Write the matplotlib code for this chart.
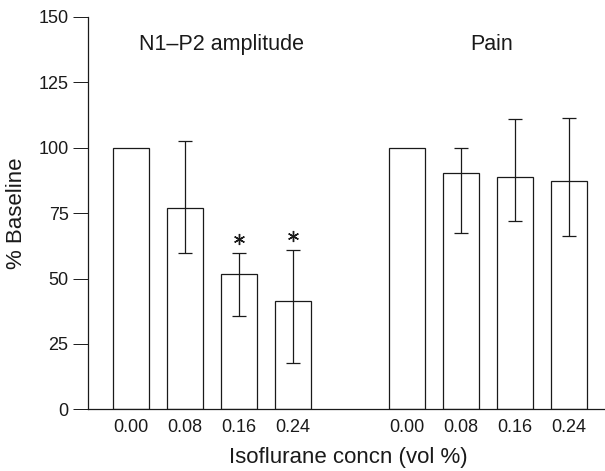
import matplotlib
matplotlib.use("Agg")
import matplotlib.pyplot as plt
import numpy as np

plt.rcParams['font.family'] = ['Liberation Sans', 'DejaVu Sans']

tick_labels = ["0.00", "0.08", "0.16", "0.24"]
n1p2_vals = [100, 76.8, 51.9, 41.3]
n1p2_err_hi = [np.nan, 102.6, 59.8, 60.8]
n1p2_err_lo = [np.nan, 59.8, 35.8, 17.6]
pain_vals = [100, 90.3, 88.8, 87.3]
pain_err_hi = [np.nan, 99.9, 111.0, 111.2]
pain_err_lo = [np.nan, 67.4, 71.8, 66.3]
signif = [False, False, True, True]

pos1 = np.arange(4)
pos2 = np.arange(4) + 5.1

fig = plt.figure(figsize=(6.05, 4.71), dpi=100)
ax = fig.add_axes([0.1455, 0.131, 0.853, 0.833])

lw = 0.9
col = '#1a1a1a'
for pos, vals, hi, lo in [(pos1, n1p2_vals, n1p2_err_hi, n1p2_err_lo),
                          (pos2, pain_vals, pain_err_hi, pain_err_lo)]:
    ax.bar(pos, vals, width=0.667, facecolor='white', edgecolor=col, linewidth=lw)
    for p, v, h, l in zip(pos, vals, hi, lo):
        if not np.isnan(h):
            ax.errorbar([p], [v], yerr=[[v - l], [h - v]], fmt='none',
                        ecolor=col, elinewidth=lw, capsize=4.8, capthick=lw)

for p, h, s in zip(pos1, n1p2_err_hi, signif):
    if s:
        ax.plot([p], [h + 5.3], linestyle='none', marker=(6, 2, 0),
                markersize=8, markeredgewidth=1.0, color=col)

ax.set_xlim(-0.8, 8.756)
ax.set_ylim(0, 150)
ax.set_yticks([0, 25, 50, 75, 100, 125, 150])
ax.set_xticks(list(pos1) + list(pos2))
ax.set_xticklabels(tick_labels + tick_labels)
ax.tick_params(axis='x', length=0, pad=7, labelsize=13, colors=col)
ax.tick_params(axis='y', length=11, width=0.7, direction='out', labelsize=13, colors=col, pad=3)
for s in ['top', 'right']:
    ax.spines[s].set_visible(False)
for s in ['left', 'bottom']:
    ax.spines[s].set_linewidth(lw)
    ax.spines[s].set_color(col)

ax.text(1.68, 139.5, "N1\u2013P2 amplitude", ha='center', va='center', fontsize=15.5, color=col)
ax.text(6.68, 139.5, "Pain", ha='center', va='center', fontsize=15.5, color=col)

fig.text(348.5 / 605, 1 - 458 / 471, "Isoflurane concn (vol %)", ha='center', va='center',
         fontsize=16, color=col)
fig.text(17 / 605, 1 - 213 / 471, "% Baseline", ha='center', va='center', rotation=90,
         fontsize=16, color=col)

fig.savefig("out.png", dpi=100)
